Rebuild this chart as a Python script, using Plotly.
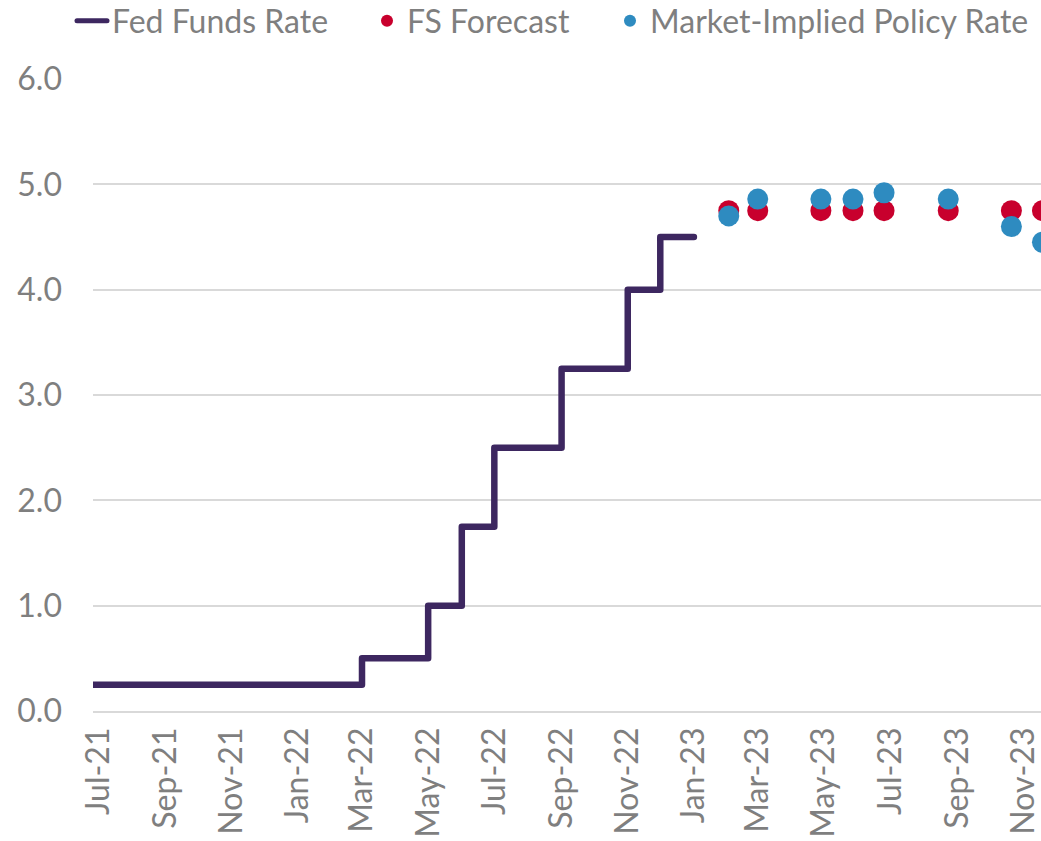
import plotly.graph_objects as go

# Fed Funds Rate (upper bound), monthly change points
fed_dates = ["2021-06-01", "2022-03-01", "2022-05-01", "2022-06-01", "2022-07-01",
             "2022-09-01", "2022-11-01", "2022-12-01", "2023-01-01"]
fed_values = [0.25, 0.50, 1.00, 1.75, 2.50, 3.25, 4.00, 4.50, 4.50]

# Forecast dates (monthly points)
fc_dates = ["2023-02-01", "2023-03-01", "2023-05-01", "2023-06-01", "2023-07-01",
            "2023-09-01", "2023-11-01", "2023-12-01"]
fs_forecast = [4.75, 4.75, 4.75, 4.75, 4.75, 4.75, 4.75, 4.75]
market_implied = [4.70, 4.86, 4.86, 4.86, 4.92, 4.86, 4.60, 4.45]

y_ticks = [0, 1, 2, 3, 4, 5, 6]

GRAY = "#7f7f7f"
GRID = "#d9d9d9"
FONT = "Lato"
FS = 32

fig = go.Figure()
fig.add_trace(go.Scatter(
    x=fed_dates, y=fed_values, mode="lines", name="Fed Funds Rate",
    line=dict(color="#3d2760", width=6.5, shape="hv"), legend="legend",
))
fig.add_trace(go.Scatter(
    x=fc_dates, y=fs_forecast, mode="markers", name="FS Forecast",
    marker=dict(color="#c8002d", size=21), xaxis="x2", legend="legend2",
))
fig.add_trace(go.Scatter(
    x=fc_dates, y=market_implied, mode="markers", name="Market-Implied Policy Rate",
    marker=dict(color="#2e8bc0", size=21), xaxis="x2", legend="legend3",
))

W, H = 1041, 841


def leg(text_left_px):
    return dict(
        orientation="h", xref="container", yref="container",
        x=(text_left_px - 40) / W, y=1 - 21 / H, xanchor="left", yanchor="middle",
        font=dict(family=FONT, size=FS, color=GRAY),
        bgcolor="rgba(0,0,0,0)", borderwidth=0, itemsizing="constant",
    )


fig.update_layout(
    width=W, height=H,
    margin=dict(l=93, r=0, t=79, b=130, autoexpand=False),
    paper_bgcolor="white", plot_bgcolor="white",
    font=dict(family=FONT, size=FS, color=GRAY),
    showlegend=True,
    legend=leg(112),
    legend2=leg(407),
    legend3=leg(650),
    xaxis=dict(
        type="date", range=["2021-06-26", "2023-11-17"], automargin=False,
        tick0="2021-07-01", dtick="M2", tickformat="%b-%y", tickangle=-90,
        showgrid=False, showline=True, linecolor=GRID, linewidth=1.5,
        ticks="", tickfont=dict(family=FONT, size=FS, color=GRAY),
        ticklabelstandoff=2, ticklabeloverflow="allow", zeroline=False,
    ),
    xaxis2=dict(
        type="date", range=["2021-05-28", "2023-11-29 14:00"],
        overlaying="x", side="bottom", visible=False, showgrid=False,
    ),
    yaxis=dict(
        range=[0, 6], tickvals=y_ticks, tickformat=".1f", automargin=False,
        showgrid=True, gridcolor=GRID, gridwidth=1.5,
        zeroline=False, showline=False, ticks="",
        ticklabelstandoff=30,
        tickfont=dict(family=FONT, size=FS, color=GRAY),
    ),
)

post = (
    "document.body.style.margin='0';document.body.style.overflow='hidden';"
    "document.querySelectorAll('path.js-line').forEach(function(p){"
    "p.style.strokeLinecap='round';p.style.strokeLinejoin='round';});"
)

fig.write_html("out.html", config={"displayModeBar": False}, post_script=post)
